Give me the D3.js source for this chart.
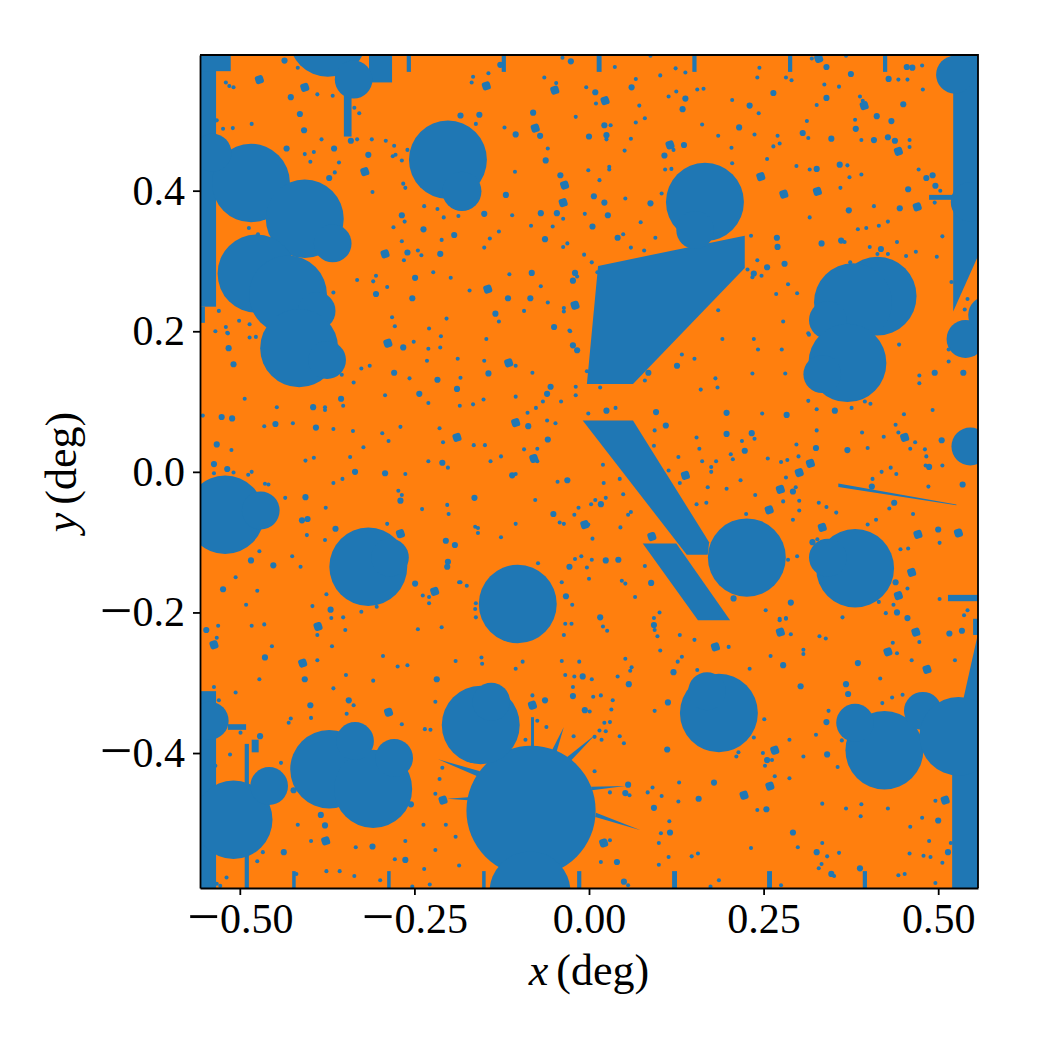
<!DOCTYPE html>
<html>
<head>
<meta charset="utf-8">
<style>
  html, body { margin: 0; padding: 0; background: #fff; }
  svg { display: block; }
  text { font-family: "Liberation Serif", serif; fill: #000; }
</style>
<script src="https://cdn.jsdelivr.net/npm/d3@7"></script>
</head>
<body>
<svg id="mask" width="1050" height="1050"></svg>
<script>
// Survey footprint mask on the sky: orange is usable area, blue is masked out.
const xDomain = [-0.557, 0.557];
const yDomain = [-0.592, 0.593];
const xTicks = [-0.5, -0.25, 0, 0.25, 0.5];
const yTicks = [-0.4, -0.2, 0, 0.2, 0.4];

// Bright-star holes, degrees
const starX = [-0.374,-0.337,-0.484,-0.539,-0.407,-0.367,-0.476,-0.431,-0.390,-0.415,-0.375,-0.521,-0.470,-0.316,-0.285,-0.202,-0.182,0.166,0.152,0.413,0.378,0.342,0.370,0.334,0.546,0.539,0.524,0.570,0.546,-0.543,-0.509,-0.458,-0.372,-0.309,-0.335,-0.279,-0.083,-0.155,-0.140,-0.0845,0.186,0.169,0.423,0.381,0.478,0.529,0.226,0.381,0.342,-0.102];
const starY = [0.618,0.558,0.411,0.454,0.360,0.325,0.282,0.252,0.229,0.176,0.159,-0.061,-0.055,-0.135,-0.122,0.444,0.399,0.384,0.344,0.250,0.241,0.216,0.155,0.139,0.036,0.189,0.565,0.223,0.384,-0.354,-0.495,-0.447,-0.423,-0.451,-0.383,-0.407,-0.482,-0.360,-0.327,-0.598,-0.343,-0.312,-0.396,-0.357,-0.340,-0.376,-0.122,-0.137,-0.122,-0.188];
const starR = [0.0558,0.027,0.0558,0.027,0.0558,0.027,0.0558,0.0558,0.027,0.0558,0.027,0.0558,0.027,0.0558,0.027,0.0558,0.028,0.0558,0.027,0.056,0.0558,0.027,0.0558,0.027,0.027,0.027,0.027,0.027,0.028,0.027,0.0558,0.027,0.0558,0.0558,0.027,0.027,0.0925,0.0558,0.027,0.058,0.0558,0.027,0.0558,0.027,0.027,0.0558,0.0558,0.0558,0.027,0.0558];

// Rectangular chip edges and bleed trails: x0, x1, y0, y1 in degrees
const stripLeft = [-0.557,-0.557,-0.557,-0.315,-0.261,-0.351,-0.125,0.011,0.148,0.285,0.421,0.487,-0.493,-0.483,-0.517,-0.425,-0.289,-0.153,-0.017,0.119,0.255,0.392,-0.557,0.520,0.550,0.514];
const stripRight = [-0.534,-0.513,-0.550,-0.282,-0.255,-0.340,-0.119,0.018,0.154,0.291,0.427,0.5215,-0.487,-0.473,-0.491,-0.420,-0.284,-0.148,-0.011,0.126,0.262,0.398,-0.534,0.557,0.557,0.557];
const stripBottom = [0.235,0.570,0.212,0.554,0.569,0.477,0.569,0.569,0.569,0.569,0.569,0.387,-0.592,-0.399,-0.367,-0.592,-0.592,-0.592,-0.592,-0.592,-0.592,-0.592,-0.592,-0.592,-0.232,-0.184];
const stripTop = [0.593,0.593,0.235,0.593,0.593,0.560,0.593,0.593,0.593,0.593,0.593,0.394,-0.387,-0.381,-0.359,-0.568,-0.568,-0.568,-0.568,-0.568,-0.568,-0.568,-0.312,-0.400,-0.209,-0.175];

// Larger masked regions and diffraction spikes, as [x, y] vertices in degrees
const wedgeUpper = [[0.013,0.293],[-0.003,0.125],[0.063,0.125],[0.223,0.290],[0.223,0.336]];
const wedgeCentre = [[-0.009,0.073],[0.063,0.073],[0.172,-0.100],[0.170,-0.118],[0.140,-0.118]];
const wedgeLower = [[0.077,-0.102],[0.125,-0.102],[0.202,-0.211],[0.156,-0.211]];
const edgeUpperRight = [[0.5215,0.593],[0.557,0.593],[0.557,0.307],[0.5215,0.228]];
const edgeLowerRight = [[0.530,-0.350],[0.5565,-0.232],[0.557,-0.350]];
const satelliteTrail = [[0.357,-0.0165],[0.526,-0.0465],[0.526,-0.0475],[0.357,-0.0215]];
const spikeNorth = [[-0.083,-0.349],[-0.0788,-0.349],[-0.0788,-0.400],[-0.083,-0.400]];
const spikeNorthEast = [[-0.036,-0.363],[-0.053,-0.396],[-0.047,-0.400]];
const spikeEastUpper = [[0.009,-0.374],[-0.033,-0.407],[-0.026,-0.411]];
const spikeEast = [[0.052,-0.447],[0.003,-0.448],[0.004,-0.453]];
const spikeSouthEast = [[0.074,-0.510],[0.010,-0.485],[0.009,-0.491]];
const spikeWest = [[-0.216,-0.409],[-0.156,-0.426],[-0.160,-0.433]];
const spikeWestLower = [[-0.203,-0.465],[-0.173,-0.463],[-0.173,-0.467]];

// Faint-star masks in millidegrees, binned by size
const speckSmall = [[-417,575],[-520,554],[-515,549],[-509,547],[-389,537],[-367,535],[-483,495],[-510,489],[-524,488],[-533,500],[-336,518],[-329,510],[-383,473],[-332,473],[-311,473],[-291,471],[-279,464],[-407,452],[-394,455],[-399,441],[-358,440],[-364,426],[-281,449],[-277,451],[-268,443],[-260,458],[-310,398],[-266,410],[-263,404],[-236,378],[-217,374],[-208,362],[-187,364],[-264,356],[-280,348],[-211,330],[-268,328],[-245,315],[-240,308],[-265,301],[-223,284],[-198,276],[-249,276],[-305,279],[-309,271],[-332,273],[-289,263],[-366,255],[-282,220],[-278,207],[-229,204],[-204,218],[-530,229],[-501,215],[-486,210],[-520,206],[-535,200],[-518,198],[-487,347],[-474,338],
[-38,589],[37,576],[-144,567],[-166,562],[-168,554],[-64,561],[-47,553],[-4,547],[10,524],[67,559],[102,564],[124,574],[138,568],[88,592],[114,534],[125,541],[155,544],[164,545],[72,521],[67,497],[80,503],[-162,495],[-121,490],[-19,505],[31,493],[25,473],[60,474],[51,457],[121,458],[162,494],[185,478],[-59,460],[-106,427],[-1,429],[29,434],[29,430],[15,415],[109,430],[118,431],[52,389],[104,396],[-110,365],[-37,360],[-6,367],[74,355],[-83,350],[-52,349],[-129,342],[-142,332],[-150,319],[-31,325],[-37,320],[49,338],[95,333],[60,319],[79,315],[-7,309],[4,298],[-114,281],[-17,278],[12,284],[-171,258],[-69,264],[-59,241],[-36,233],[-36,228],[-93,229],[-129,214],[-28,201],[185,230],
[244,575],[241,561],[282,561],[290,557],[205,529],[243,510],[237,480],[204,461],[205,439],[319,588],[368,592],[337,551],[358,548],[326,522],[388,534],[392,528],[312,499],[314,475],[270,478],[273,467],[264,463],[255,445],[381,501],[390,472],[459,472],[459,462],[478,544],[443,558],[456,558],[477,578],[297,435],[316,430],[370,436],[390,423],[373,419],[360,404],[316,362],[408,378],[472,430],[503,400],[495,383],[232,336],[366,327],[385,345],[397,347],[415,350],[428,356],[441,327],[402,320],[413,310],[428,310],[454,307],[468,313],[498,306],[506,335],[519,270],[374,298],[241,301],[227,288],[234,277],[247,279],[285,267],[268,253],[298,254],[278,214],[314,197],[542,246],[538,231],
[-517,197],[-486,191],[-477,192],[-251,185],[-230,175],[-213,177],[-212,193],[-188,161],[-232,158],[-257,133],[-326,147],[-314,151],[-337,127],[-354,138],[-230,98],[-292,109],[-185,94],[-493,104],[-447,92],[-378,92],[-378,88],[-352,94],[-553,80],[-465,65],[-424,69],[-366,61],[-338,58],[-296,55],[-287,44],[-270,64],[-214,62],[-209,42],[-323,35],[-512,31],[-537,-2],[-509,-1],[-488,-4],[-483,0],[-406,16],[-394,20],[-342,21],[-230,15],[-202,6],[-263,-3],[-353,-10],[-366,-16],[-464,-17],[-459,-18],[-273,-27],[-268,-33],[-435,-37],[-377,-51],[-239,-53],[-203,-47],[-201,-60],[-289,-74],[-404,-90],[-378,-97],[-472,-113],[-425,-120],[-413,-135],[-506,-150],[-475,-169],[-491,-189],[-376,-174],[-396,-191],[-326,-199],[-304,-192],[-238,-176],[-229,-178],[-229,-187],[-369,-208],[-352,-207],[-186,-157],
[-147,189],[-27,200],[-150,158],[-105,151],[-81,141],[-184,134],[-3,143],[16,120],[-19,121],[-19,109],[-105,107],[-151,103],[-166,96],[-66,100],[-40,100],[-76,91],[-88,84],[-1,83],[38,91],[-60,73],[-48,69],[-165,38],[-149,38],[-93,32],[-74,33],[-126,22],[-141,15],[-74,15],[-105,-3],[20,10],[-45,-14],[21,-16],[44,-10],[49,-32],[24,-37],[-77,-40],[9,-40],[3,-46],[-15,-51],[-21,-61],[60,-57],[56,-61],[-105,-74],[-42,-72],[-36,-74],[-1,-75],[45,-79],[-163,-78],[-159,-80],[-159,-87],[-126,-93],[5,-95],[-73,-130],[-20,-124],[-11,-120],[4,-125],[-3,-136],[80,-134],[0,-152],[47,-155],[52,-159],[-39,-157],[-175,-162],[-184,-157],[-24,-189],[66,-178],[101,-200],[93,-208],[-162,-187],[-163,-195],[-162,-207],[80,130],[133,167],[151,161],[191,189],[181,133],[160,117],[184,120],[94,59],[154,49],[93,37],[158,33],[128,21],[162,15],[182,15],[175,7],[175,0],[114,2],[130,-16],[170,-22],[197,-24],[168,-44],[154,-46],
[236,189],[242,174],[276,174],[234,140],[281,140],[315,195],[444,181],[515,157],[515,174],[473,137],[473,126],[314,101],[326,89],[376,91],[395,100],[403,97],[248,83],[451,82],[492,88],[326,59],[439,67],[443,56],[391,56],[422,50],[467,42],[219,44],[237,47],[297,39],[399,34],[460,33],[481,32],[483,22],[203,25],[206,18],[256,19],[275,14],[284,17],[300,22],[282,-8],[432,6],[419,0],[440,-3],[482,9],[506,9],[217,-12],[406,-10],[486,-21],[296,-22],[238,-33],[278,-42],[301,-41],[329,-44],[340,-50],[354,-58],[301,-55],[225,-60],[430,-52],[464,-60],[292,-68],[411,-68],[399,-75],[327,-96],[502,-101],[446,-110],[457,-109],[298,-120],[285,-125],[456,-166],[502,-181],[415,-185],[436,-189],[253,-197],[425,-201],[542,-197],[537,-204],[363,-207],[273,-209],[282,-208],
[-531,-219],[-483,-219],[-465,-217],[-389,-232],[-349,-225],[-533,-236],[-454,-248],[-368,-248],[-245,-224],[-211,-221],[-389,-268],[-295,-262],[-274,-277],[-260,-275],[-191,-269],[-472,-295],[-348,-289],[-309,-297],[-366,-308],[-537,-306],[-506,-314],[-530,-325],[-399,-332],[-337,-332],[-220,-327],[-347,-344],[-427,-351],[-430,-357],[-398,-350],[-268,-359],[-235,-366],[-227,-367],[-499,-371],[-514,-402],[-441,-414],[-535,-418],[-210,-421],[-214,-437],[-220,-458],[-417,-502],[-237,-502],[-205,-502],[-398,-525],[-263,-525],[-191,-519],[-220,-538],[-334,-534],[-467,-541],[-475,-554],[-278,-551],[-236,-565],[-186,-560],[-419,-572],[-376,-568],[-357,-568],[-336,-575],[-299,-581],[-228,-587],[-519,-577],[-253,-590],[-528,-589],[-533,-586],
[-34,-216],[-25,-216],[-36,-232],[20,-220],[26,-226],[94,-225],[98,-234],[130,-232],[151,-239],[200,-249],[102,-254],[133,-263],[127,-270],[155,-282],[-154,-264],[-153,-273],[-95,-270],[-105,-280],[-39,-269],[-14,-270],[52,-266],[61,-278],[59,-283],[41,-291],[-34,-289],[-21,-291],[4,-295],[-23,-306],[6,-320],[17,-318],[34,-325],[-81,-318],[94,-340],[1,-341],[32,-338],[-74,-354],[-61,-363],[22,-357],[30,-356],[15,-368],[24,-369],[-22,-376],[8,-377],[18,-381],[44,-376],[50,-386],[-91,-381],[8,-426],[30,-456],[58,-460],[84,-456],[91,-449],[104,-461],[129,-442],[128,-469],[157,-465],[115,-497],[103,-514],[100,-528],[30,-524],[17,-555],[114,-548],[147,-547],[156,-543],[100,-559],[56,-588],[186,-581],[174,-590],
[273,-211],[282,-209],[289,-231],[330,-234],[339,-237],[260,-262],[307,-253],[307,-259],[230,-280],[435,-243],[441,-258],[462,-268],[473,-242],[524,-268],[417,-294],[420,-329],[434,-321],[449,-317],[343,-340],[251,-352],[325,-374],[362,-382],[287,-381],[236,-378],[356,-420],[307,-405],[249,-400],[214,-399],[211,-405],[262,-410],[252,-418],[266,-433],[287,-436],[241,-481],[334,-472],[368,-479],[390,-473],[389,-490],[428,-479],[232,-535],[299,-534],[334,-528],[341,-547],[358,-542],[333,-558],[329,-564],[351,-575],[443,-574],[452,-572],[460,-505],[477,-492],[496,-468],[487,-525],[518,-528],[459,-543],[479,-546],[489,-548],[506,-556],[496,-585],[275,-588]];

const speckMedium = [[-436,585],[-427,533],[-414,509],[-408,486],[-341,471],[-433,460],[-365,460],[-372,418],[-316,451],[-268,365],[-237,345],[-193,337],[-260,312],[-213,310],[-249,276],[-305,253],[-253,247],
[-26,584],[-127,579],[9,540],[61,547],[138,531],[134,516],[-157,508],[-184,507],[-80,511],[-105,480],[-70,478],[22,493],[0,477],[25,479],[136,465],[108,450],[-62,443],[-41,422],[-119,394],[7,392],[22,383],[88,382],[-150,367],[-69,368],[-46,368],[27,365],[5,349],[-63,331],[41,333],[-82,283],[-20,283],[-23,272],[-116,247],[-84,247],[-134,225],[-50,206],
[264,539],[230,521],[215,490],[340,576],[375,566],[340,532],[306,482],[347,474],[382,488],[408,472],[412,506],[433,499],[428,476],[438,471],[450,523],[429,559],[455,576],[463,575],[326,431],[359,437],[372,372],[457,402],[483,418],[492,422],[496,407],[445,375],[269,333],[270,320],[333,325],[361,329],[418,317],[280,296],[255,291],[236,282],
[-516,176],[-509,153],[-266,177],[-279,141],[-217,131],[-189,118],[-243,111],[-395,92],[-355,104],[-526,78],[-511,76],[-449,68],[-391,63],[-533,39],[-537,11],[-518,4],[-210,13],[-335,0],[-292,-2],[-270,-41],[-406,-36],[-411,-69],[-403,-67],[-363,-81],[-205,-98],[-192,-104],[-484,-126],[-452,-133],[-202,-128],[-203,-135],[-524,-167],[-370,-196],[-249,-159],
[-23,180],[-17,173],[-144,140],[-55,121],[-60,111],[25,87],[-87,65],[-59,46],[-79,19],[-110,-5],[-31,-12],[-164,-37],[17,-46],[-51,-60],[24,-126],[42,-125],[-28,-135],[89,-158],[-33,-177],[16,-207],[85,141],[126,151],[96,85],[197,84],[110,66],[197,54],
[495,141],[536,141],[352,87],[283,81],[505,45],[233,55],[223,30],[325,34],[370,31],[487,7],[405,-21],[535,-18],[292,-28],[437,-44],[320,-100],[500,-82],[439,-157],[207,-180],[289,-186],[441,-200],[456,-208],
[-548,-225],[-464,-264],[-407,-295],[-218,-295],[-344,-325],[-399,-332],[-471,-376],[-423,-453],[-255,-473],[-384,-488],[-378,-503],[-310,-533],[-437,-541],[-263,-552],
[93,-218],[121,-285],[-9,-291],[57,-302],[-23,-319],[-63,-325],[113,-328],[-6,-339],[112,-395],[56,-445],[52,-457],[179,-442],[157,-465],[93,-478],[116,-513],[40,-555],[50,-583],
[278,-275],[385,-272],[516,-230],[534,-226],[303,-305],[368,-302],[371,-316],[340,-356],[341,-402],[255,-410],[254,-480],[292,-513],[326,-541],[347,-572],[388,-564],[500,-496],[514,-541]];

const speckLarge = [[-472,558],[-407,547],[-321,427],[-292,310],
[-147,549],[-49,543],[23,528],[-77,489],[116,465],[-35,408],[-37,383],[-145,260],[-20,237],
[329,588],[394,521],[443,456],[246,420],[279,395],[327,399],[470,377],
[-288,183],[-189,49],[-270,-88],[-221,-170],
[-115,155],[-105,70],[-79,19],[-6,-75],[90,-92],[138,-5],
[452,49],[317,12],[301,-1],[274,-25],[258,-54],[334,-79],[471,-89],[529,-87],[462,-143],[443,-176],
[-537,-246],[-388,-220],[-410,-272],[-287,-342],[-209,-467],[-377,-525],
[181,-249],[-81,-332],[21,-528],
[274,-228],[428,-256],[468,-228],[484,-281],[266,-396],[259,-447],[222,-460],[510,-467]];

const orange = "#ff7f0e";
const blue = "#1f77b4";

const svg = d3.select("#mask");
const plot = { left: 200, right: 978, top: 55, bottom: 888 };
const x = d3.scaleLinear().domain(xDomain).range([plot.left, plot.right]);
const y = d3.scaleLinear().domain(yDomain).range([plot.bottom, plot.top]);

svg.append("defs").append("clipPath").attr("id", "plot-clip")
  .append("rect")
  .attr("x", plot.left).attr("y", plot.top)
  .attr("width", plot.right - plot.left).attr("height", plot.bottom - plot.top);

svg.append("rect")
  .attr("x", plot.left).attr("y", plot.top)
  .attr("width", plot.right - plot.left).attr("height", plot.bottom - plot.top)
  .attr("fill", orange);

const masks = svg.append("g").attr("clip-path", "url(#plot-clip)").attr("fill", blue);

// Rectangular strips
masks.append("g").selectAll("rect").data(d3.range(stripLeft.length)).join("rect")
  .attr("x", i => x(stripLeft[i]))
  .attr("width", i => x(stripRight[i]) - x(stripLeft[i]))
  .attr("y", i => y(stripTop[i]))
  .attr("height", i => y(stripBottom[i]) - y(stripTop[i]));

// Polygons
const polygonPath = d3.line().x(d => x(d[0])).y(d => y(d[1]));
const polygons = [wedgeUpper, wedgeCentre, wedgeLower, edgeUpperRight, edgeLowerRight, satelliteTrail,
  spikeNorth, spikeNorthEast, spikeEastUpper, spikeEast, spikeSouthEast, spikeWest, spikeWestLower];
masks.append("g").selectAll("path").data(polygons).join("path")
  .attr("d", d => polygonPath(d) + "Z");

// Star holes
masks.append("g").selectAll("ellipse").data(d3.range(starX.length)).join("ellipse")
  .attr("cx", i => x(starX[i]))
  .attr("cy", i => y(starY[i]))
  .attr("rx", i => x(starR[i]) - x(0))
  .attr("ry", i => y(0) - y(starR[i]));

// Faint-star specks
const pxPerDeg = x(1) - x(0);
const speckles = masks.append("g");
speckles.selectAll("circle.small").data(speckSmall).join("circle").attr("class", "small")
  .attr("cx", d => x(d[0] / 1000)).attr("cy", d => y(d[1] / 1000)).attr("r", 0.0029 * pxPerDeg);
speckles.selectAll("circle.medium").data(speckMedium).join("circle").attr("class", "medium")
  .attr("cx", d => x(d[0] / 1000)).attr("cy", d => y(d[1] / 1000)).attr("r", 0.0044 * pxPerDeg);
const largeSide = 0.0118 * pxPerDeg;
speckles.selectAll("rect.large").data(speckLarge).join("rect").attr("class", "large")
  .attr("x", -largeSide / 2).attr("y", -largeSide / 2)
  .attr("width", largeSide).attr("height", largeSide).attr("rx", 2.5)
  .attr("transform", d => `translate(${x(d[0] / 1000)},${y(d[1] / 1000)}) rotate(-18)`);

// Axes
const xAxis = d3.axisBottom(x).tickValues(xTicks).tickFormat(d3.format(".2f")).tickSizeInner(7).tickSizeOuter(0).tickPadding(8);
const yAxis = d3.axisLeft(y).tickValues(yTicks).tickFormat(d3.format(".1f")).tickSizeInner(7).tickSizeOuter(0).tickPadding(8);

// Tick labels set the minus sign larger so it reads as wide as a math minus.
// A tspan dy replaces the label's own dy, so the offset moves onto the tspan.
const labelSize = 42;
function styleAxis(g) {
  g.select(".domain").attr("stroke", "#000").attr("stroke-width", 1.8);
  g.selectAll(".tick line").attr("stroke", "#000").attr("stroke-width", 1.8);
  g.selectAll(".tick text")
    .attr("font-family", "'Liberation Serif', serif").attr("font-size", labelSize).attr("fill", "#000")
    .each(function () {
      const label = d3.select(this);
      const content = label.text();
      if (!content.startsWith("-") && !content.startsWith("\u2212")) return;
      const baseDy = parseFloat(label.attr("dy")) * labelSize;
      label.attr("dy", null).text(null);
      label.append("tspan").attr("font-size", 58).attr("dy", baseDy + 3.5).text("\u2212");
      label.append("tspan").attr("dy", -3.5).text(content.slice(1));
    });
}
svg.append("g").attr("transform", `translate(0,${plot.bottom})`).call(xAxis).call(styleAxis);
svg.append("g").attr("transform", `translate(${plot.left},0)`).call(yAxis).call(styleAxis);

// Top and right spines
svg.append("path")
  .attr("d", `M${plot.left},${plot.top}H${plot.right}V${plot.bottom}`)
  .attr("fill", "none").attr("stroke", "#000").attr("stroke-width", 1.8);

// Axis titles
function axisTitle(sel, symbol) {
  sel.attr("font-size", 44).attr("text-anchor", "middle");
  sel.append("tspan").attr("font-style", "italic").text(symbol);
  sel.append("tspan").attr("dx", 8).text("(deg)");
}
svg.append("text").attr("x", 589).attr("y", 985).call(axisTitle, "x");
svg.append("text").attr("transform", "translate(76,472) rotate(-90)").call(axisTitle, "y");
</script>
</body>
</html>
